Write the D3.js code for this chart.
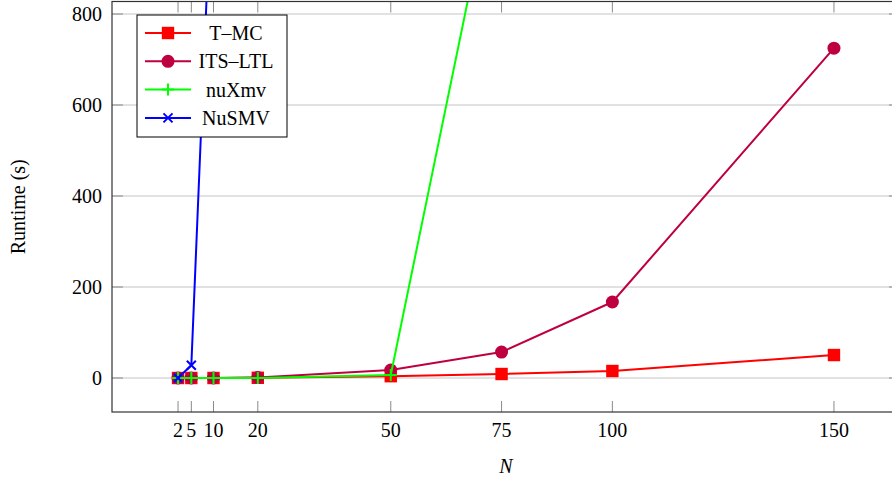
<!DOCTYPE html>
<html>
<head>
<meta charset="utf-8">
<script src="https://cdn.jsdelivr.net/npm/d3@7"></script>
<style>
  body { margin: 0; background: #fff; }
  text { font-family: "Liberation Serif", serif; }
</style>
</head>
<body>
<div id="display"></div>
<script>
// problem size N
var nValues = [2, 5, 10, 20, 50, 75, 100, 150]
var tmcTimes = [0, 0, 0, 0.5, 4, 8.8, 15.4, 50.5]
var itsTimes = [0, 0, 0, 1, 17.6, 57, 167, 725]
var nuxmvN = [2, 5, 10, 20, 50, 75]
var nuxmvTimes = [0, 0, 0, 0, 6.6, 1190]
var nusmvN = [2, 5, 10]
var nusmvTimes = [0, 28, 1200]

var xTicks = [2, 5, 10, 20, 50, 75, 100, 150]
var yTicks = [0, 200, 400, 600, 800]
var seriesNames = ["T\u2013MC", "ITS\u2013LTL", "nuXmv", "NuSMV"]
var seriesColors = ["#ff0000", "#bf0040", "#00ff00", "#0000ff"]
var seriesMarks = ["square", "circle", "plus", "cross"]

var series = [
  {name: seriesNames[0], color: seriesColors[0], mark: seriesMarks[0], pts: nValues.map((n, i) => [n, tmcTimes[i]])},
  {name: seriesNames[1], color: seriesColors[1], mark: seriesMarks[1], pts: nValues.map((n, i) => [n, itsTimes[i]])},
  {name: seriesNames[2], color: seriesColors[2], mark: seriesMarks[2], pts: nuxmvN.map((n, i) => [n, nuxmvTimes[i]])},
  {name: seriesNames[3], color: seriesColors[3], mark: seriesMarks[3], pts: nusmvN.map((n, i) => [n, nusmvTimes[i]])}
]

var width = 892, height = 482;
var margin = {left: 112, right: -8, top: 1.5, bottom: 70};
var fontSize = "20px";

var x = d3.scaleLinear()
    .domain([-12.9, 164.9])
    .range([margin.left, width - margin.right])

var y = d3.scaleLinear()
    .domain([-74.7, 827.5])
    .range([height - margin.bottom, margin.top])

var svg = d3.select("#display")
    .append("svg")
    .attr("width", width)
    .attr("height", height);

svg.append("defs").append("clipPath")
    .attr("id", "plotclip")
  .append("rect")
    .attr("x", x.range()[0])
    .attr("y", y.range()[1])
    .attr("width", x.range()[1] - x.range()[0])
    .attr("height", y.range()[0] - y.range()[1]);

var x0 = x.range()[0], x1 = x.range()[1], yb = y.range()[0], yt = y.range()[1];

// horizontal grid
svg.append("g")
    .selectAll("line")
    .data(yTicks)
    .join("line")
      .attr("x1", x0).attr("x2", x1)
      .attr("y1", d => y(d)).attr("y2", d => y(d))
      .attr("stroke", "#c4c4c4")
      .attr("stroke-width", 1);

// tick marks (inside, on all four sides)
var tickLen = 11;
var ticks = svg.append("g").attr("stroke", "#8a8a8a").attr("stroke-width", 1);
ticks.selectAll(".xb").data(xTicks).join("line")
    .attr("x1", d => x(d)).attr("x2", d => x(d))
    .attr("y1", yb).attr("y2", yb - tickLen);
ticks.selectAll(".xt").data(xTicks).join("line")
    .attr("x1", d => x(d)).attr("x2", d => x(d))
    .attr("y1", yt).attr("y2", yt + tickLen);
ticks.selectAll(".yl").data(yTicks).join("line")
    .attr("x1", x0).attr("x2", x0 + tickLen)
    .attr("y1", d => y(d)).attr("y2", d => y(d));
ticks.selectAll(".yr").data(yTicks).join("line")
    .attr("x1", x1).attr("x2", x1 - tickLen)
    .attr("y1", d => y(d)).attr("y2", d => y(d));

// series
var plot = svg.append("g").attr("clip-path", "url(#plotclip)");
var line = d3.line().x(d => x(d[0])).y(d => y(d[1]));

function drawMark(g, mark, color) {
  if (mark == "square") {
    g.append("rect").attr("x", -6.2).attr("y", -6.2).attr("width", 12.4).attr("height", 12.4).attr("fill", color);
  } else if (mark == "circle") {
    g.append("circle").attr("r", 6.5).attr("fill", color);
  } else if (mark == "plus") {
    g.append("path").attr("d", "M-6,0H6M0,-6V6").attr("stroke", color).attr("stroke-width", 2).attr("fill", "none");
  } else {
    g.append("path").attr("d", "M-4.5,-4.5L4.5,4.5M-4.5,4.5L4.5,-4.5").attr("stroke", color).attr("stroke-width", 2).attr("fill", "none");
  }
}

series.forEach(function(s) {
  plot.append("path")
      .datum(s.pts)
      .attr("fill", "none")
      .attr("stroke", s.color)
      .attr("stroke-width", 2)
      .attr("stroke-linejoin", "round")
      .attr("d", line);
  plot.append("g")
    .selectAll("g")
    .data(s.pts)
    .join("g")
      .attr("transform", d => "translate(" + x(d[0]) + "," + y(d[1]) + ")")
      .each(function() { drawMark(d3.select(this), s.mark, s.color); });
});

// frame
svg.append("rect")
    .attr("x", x0).attr("y", yt)
    .attr("width", x1 - x0).attr("height", yb - yt)
    .attr("fill", "none")
    .attr("stroke", "#333")
    .attr("stroke-width", 1.2);

// tick labels
svg.append("g")
    .attr("text-anchor", "middle")
    .style("font-size", fontSize)
    .selectAll("text")
    .data(xTicks)
    .join("text")
      .attr("x", d => x(d))
      .attr("y", 437)
      .text(d => d);

svg.append("g")
    .attr("text-anchor", "end")
    .style("font-size", fontSize)
    .selectAll("text")
    .data(yTicks)
    .join("text")
      .attr("x", 102)
      .attr("y", d => y(d))
      .attr("dy", "0.35em")
      .text(d => d);

// axis labels
svg.append("text")
    .attr("x", (x0 + x1) / 2)
    .attr("y", 473)
    .attr("text-anchor", "middle")
    .style("font-size", fontSize)
    .style("font-style", "italic")
    .text("N");

svg.append("text")
    .attr("transform", "translate(25," + ((yt + yb) / 2) + ") rotate(-90)")
    .attr("text-anchor", "middle")
    .style("font-size", fontSize)
    .text("Runtime (s)");

// legend
var legend = svg.append("g");
legend.append("rect")
    .attr("x", 137).attr("y", 15)
    .attr("width", 150).attr("height", 122)
    .attr("fill", "#fff")
    .attr("stroke", "#000")
    .attr("stroke-width", 1);

var items = legend.selectAll(".item")
    .data(series)
    .join("g")
      .attr("transform", (d, i) => "translate(0," + (33 + i * 28.3) + ")");
items.append("line")
    .attr("x1", 145).attr("x2", 191)
    .attr("stroke", d => d.color)
    .attr("stroke-width", 2);
items.append("g")
    .attr("transform", "translate(168,0)")
    .each(function(d) { drawMark(d3.select(this), d.mark, d.color); });
items.append("text")
    .attr("x", 236)
    .attr("dy", "0.35em")
    .attr("text-anchor", "middle")
    .style("font-size", fontSize)
    .text(d => d.name);
</script>
</body>
</html>
